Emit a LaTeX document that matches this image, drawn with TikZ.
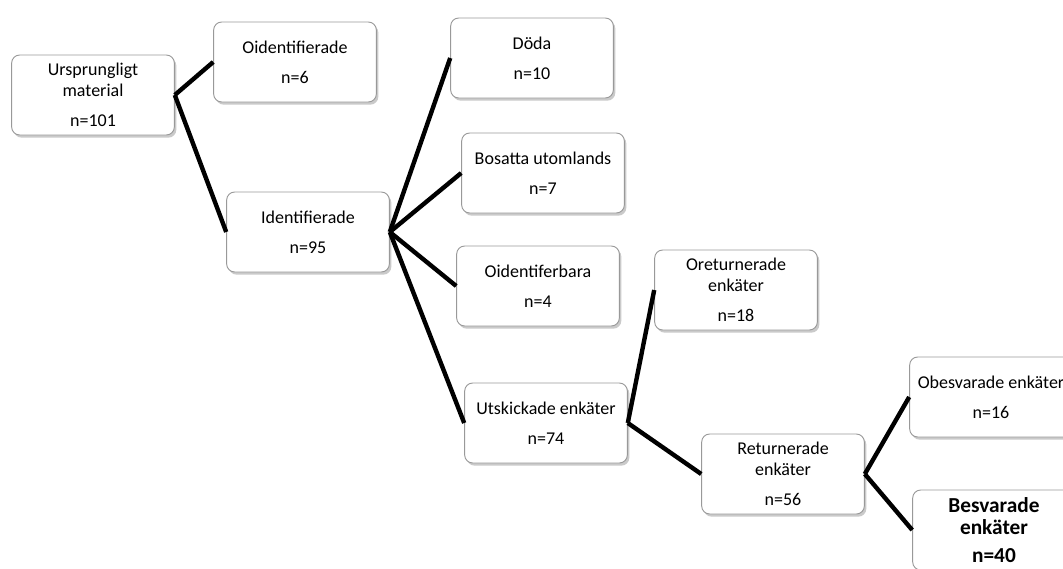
\documentclass[tikz,border=0pt]{standalone}
\usepackage{fontspec}
\setmainfont{Carlito}
\usetikzlibrary{shadows}
\begin{document}
\begin{tikzpicture}[x=0.75pt,y=-0.75pt,
  box/.style={draw=black!40, line width=0.7pt, fill=white, rounded corners=6pt,
    minimum width=122pt, minimum height=60pt, align=center, inner sep=0pt,
    font=\fontsize{13.5pt}{15.5pt}\selectfont,
    drop shadow={shadow xshift=1.5pt, shadow yshift=-2pt, opacity=0.35, fill=black!60}},
  conn/.style={line width=3.3pt, black}]
\useasboundingbox (0,0) rectangle (1063,568);
\clip (0,0) rectangle (1063,568);
\node[box] (urs) at (93,95) {Ursprungligt\\material\\[7pt]n=101};
\node[box] (oid) at (295,62) {Oidentifierade\\[7pt]n=6};
\node[box] (ide) at (308,232) {Identifierade\\[7pt]n=95};
\node[box] (doda) at (532,58) {Döda\\[7pt]n=10};
\node[box] (bos) at (543,173) {Bosatta utomlands\\[7pt]n=7};
\node[box] (oidf) at (538,286) {Oidentiferbara\\[7pt]n=4};
\node[box] (uts) at (546,423) {Utskickade enkäter\\[7pt]n=74};
\node[box] (oret) at (736,290) {Oreturnerade\\enkäter\\[7pt]n=18};
\node[box] (ret) at (783,474) {Returnerade\\enkäter\\[7pt]n=56};
\node[box] (obes) at (991,397) {Obesvarade enkäter\\[7pt]n=16};
\node[box, font=\fontsize{16pt}{17pt}\selectfont\bfseries] (besv) at (994,530) {Besvarade\\enkäter\\[4pt]n=40};
\draw[conn] (urs.east) -- (oid.west);
\draw[conn] (urs.east) -- (ide.west);
\draw[conn] (ide.east) -- (doda.west);
\draw[conn] (ide.east) -- (bos.west);
\draw[conn] (ide.east) -- (oidf.west);
\draw[conn] (ide.east) -- (uts.west);
\draw[conn] (uts.east) -- (oret.west);
\draw[conn] (uts.east) -- (ret.west);
\draw[conn] (ret.east) -- (obes.west);
\draw[conn] (ret.east) -- (besv.west);
\end{tikzpicture}
\end{document}
